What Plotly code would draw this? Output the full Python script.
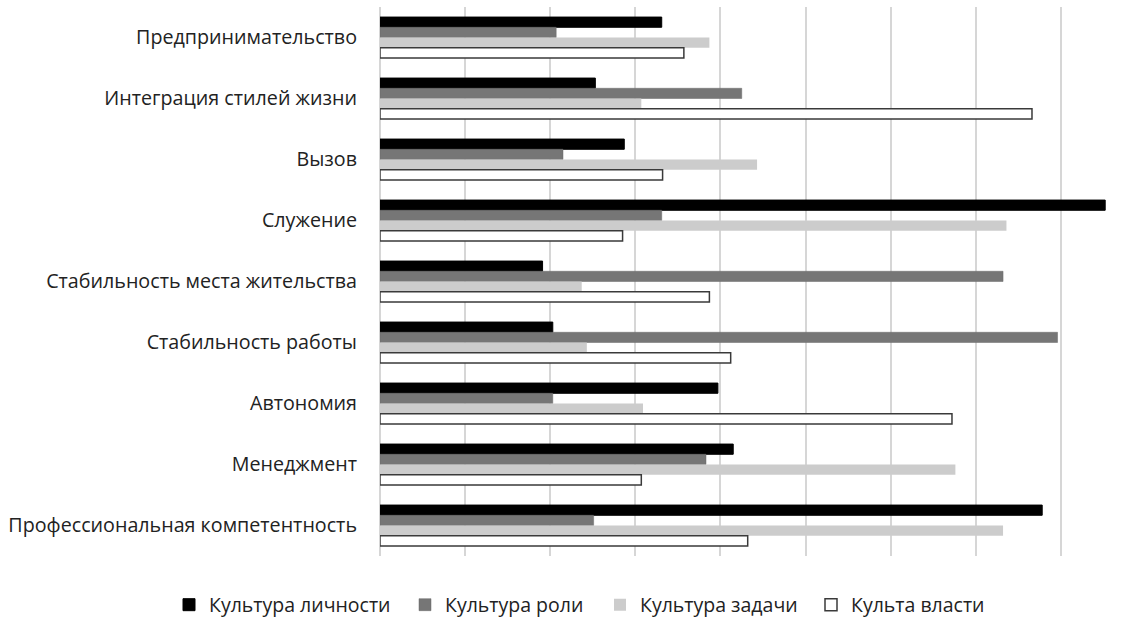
import plotly.graph_objects as go

# Career anchors, listed top to bottom
categories = [
    "Предпринимательство",
    "Интеграция стилей жизни",
    "Вызов",
    "Служение",
    "Стабильность места жительства",
    "Стабильность работы",
    "Автономия",
    "Менеджмент",
    "Профессиональная компетентность",
]

series_names = ["Культура личности", "Культура роли", "Культура задачи", "Культа власти"]

personal = [3.31, 2.53, 2.87, 8.52, 1.91, 2.03, 3.97, 4.15, 7.78]
role = [2.07, 4.25, 2.15, 3.31, 7.32, 7.96, 2.03, 3.83, 2.51]
task = [3.87, 3.07, 4.43, 7.36, 2.37, 2.43, 3.09, 6.76, 7.32]
power = [3.57, 7.66, 3.32, 2.85, 3.87, 4.12, 6.72, 3.07, 4.32]

values = [personal, role, task, power]
fills = ["#000000", "#767676", "#cccccc", "#ffffff"]
edges = ["#000000", "#6a6a6a", "#cccccc", "#3a3a3a"]
edge_w = [1, 0.5, 0, 1.5]

FONT = "Open Sans"
TICK_SIZE = 19.7
LEGEND_SIZE = 19.5
TEXT = "#222222"
W, H = 1139, 620

fig = go.Figure()
legend_ids = ["legend", "legend2", "legend3", "legend4"]
for name, vals, fc, ec, ew, lg in zip(series_names, values, fills, edges, edge_w, legend_ids):
    fig.add_trace(go.Bar(
        y=categories,
        x=vals,
        name=name,
        orientation="h",
        marker=dict(color=fc, line=dict(color=ec, width=ew)),
        legend=lg,
        showlegend=True,
    ))

# Each legend entry is placed on its own so the spacing follows the layout
legend_x = [169, 405, 600, 811]
legend_common = dict(
    orientation="h",
    xref="container",
    yref="container",
    xanchor="left",
    yanchor="middle",
    y=1 - 605 / H,
    font=dict(family=FONT, size=LEGEND_SIZE, color=TEXT),
    bgcolor="rgba(0,0,0,0)",
    borderwidth=0,
    visible=True,
)
layout_legends = {}
for lg, lx in zip(legend_ids, legend_x):
    layout_legends[lg] = dict(legend_common, x=lx / W)

fig.update_layout(
    width=W,
    height=H,
    showlegend=True,
    barmode="group",
    bargap=0.33,
    bargroupgap=0,
    plot_bgcolor="#ffffff",
    paper_bgcolor="#ffffff",
    margin=dict(l=380, r=27, t=7, b=64, autoexpand=False),
    font=dict(family=FONT, size=TICK_SIZE, color=TEXT),
    xaxis=dict(
        range=[0, 8.6],
        dtick=1,
        showticklabels=False,
        showgrid=True,
        gridcolor="#d6d6d6",
        gridwidth=1.5,
        zeroline=True,
        zerolinecolor="#d6d6d6",
        zerolinewidth=1.5,
        showline=False,
        ticks="",
        automargin=False,
    ),
    yaxis=dict(
        autorange="reversed",
        showgrid=False,
        showline=False,
        ticks="",
        ticklabelstandoff=22,
        automargin=False,
        tickfont=dict(family=FONT, size=TICK_SIZE, color=TEXT),
    ),
    **layout_legends,
)

fig.write_html("out.html")
